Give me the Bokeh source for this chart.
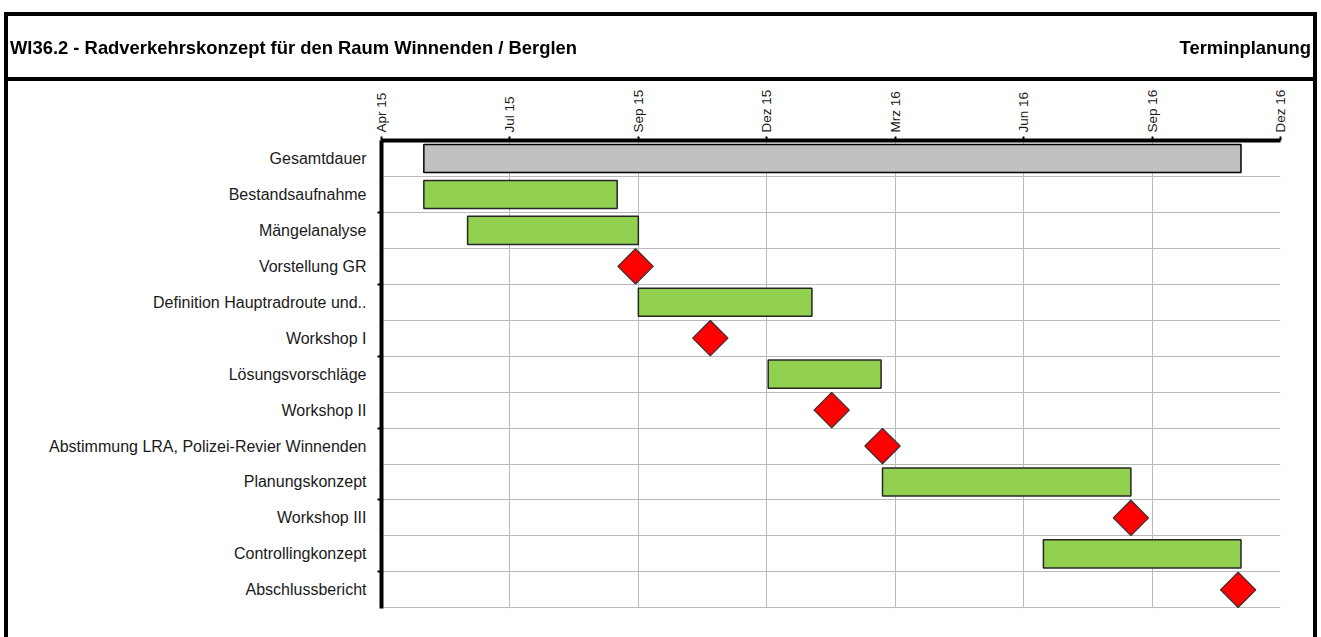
import numpy as np
import pandas as pd
from bokeh.plotting import figure
from bokeh.layouts import column
from bokeh.models import Range1d, FixedTicker, ColumnDataSource, Div
from bokeh.embed import file_html
from bokeh.resources import INLINE

# ---------------- data ----------------
tasks = ["Gesamtdauer", "Bestandsaufnahme", "Mängelanalyse", "Vorstellung GR",
         "Definition Hauptradroute und..", "Workshop I", "Lösungsvorschläge",
         "Workshop II", "Abstimmung LRA, Polizei-Revier Winnenden", "Planungskonzept",
         "Workshop III", "Controllingkonzept", "Abschlussbericht"]
kinds = ["summary", "task", "task", "milestone", "task", "milestone", "task",
         "milestone", "milestone", "task", "milestone", "task", "milestone"]
starts = ["2015-05-01", "2015-05-01", "2015-06-01", "2015-09-28", "2015-09-30",
          "2015-11-20", "2015-12-31", "2016-02-14", "2016-03-21", "2016-03-21",
          "2016-09-13", "2016-07-13", "2016-11-28"]
ends = ["2016-11-30", "2015-09-15", "2015-09-30", "2015-09-28", "2016-01-31",
        "2015-11-20", "2016-03-20", "2016-02-14", "2016-03-21", "2016-09-13",
        "2016-09-13", "2016-11-30", "2016-11-28"]
tick_dates = ["2015-04-01", "2015-07-01", "2015-09-30", "2015-12-30",
              "2016-03-30", "2016-06-29", "2016-09-28", "2016-12-28"]
tick_labels = ["Apr 15", "Jul 15", "Sep 15", "Dez 15", "Mrz 16", "Jun 16", "Sep 16", "Dez 16"]
title_text = "WI36.2 - Radverkehrskonzept für den Raum Winnenden / Berglen"
right_text = "Terminplanung"

# ---------------- derived ----------------
origin = pd.Timestamp(tick_dates[0])
def days(lst):
    return [int((pd.Timestamp(s) - origin).days) for s in lst]

s_days = days(starts)
e_days = days(ends)
t_days = days(tick_dates)
rows = list(range(len(tasks)))

FONT = "Liberation Sans"

p = figure(width=1321, height=630, output_backend="svg", toolbar_location=None,
           x_axis_location="above", tools="",
           x_range=Range1d(t_days[0], t_days[-1]),
           y_range=Range1d(len(tasks) - 0.48, -0.5),
           min_border_left=381, min_border_right=41,
           min_border_top=140, min_border_bottom=22)
p.title.visible = False
p.outline_line_color = None
p.background_fill_color = "white"
p.border_fill_color = "white"

# grids
p.xgrid.ticker = FixedTicker(ticks=t_days)
p.xgrid.grid_line_color = "#bababa"
p.xgrid.grid_line_width = 1
p.ygrid.ticker = FixedTicker(ticks=[r + 0.5 for r in rows])
p.ygrid.grid_line_color = "#bababa"
p.ygrid.grid_line_width = 1

# top x axis
xa = p.xaxis[0]
xa.ticker = FixedTicker(ticks=t_days)
xa.major_label_overrides = {d: l for d, l in zip(t_days, tick_labels)}
xa.major_label_orientation = np.pi / 2
xa.major_label_text_font = FONT
xa.major_label_text_font_size = "13.5px"
xa.major_label_text_color = "#1a1a1a"
xa.major_label_standoff = 4
xa.axis_line_width = 4
xa.axis_line_color = "black"
xa.major_tick_in = 0
xa.major_tick_out = 4
xa.major_tick_line_width = 2
xa.minor_tick_line_color = None

# left y axis
ya = p.yaxis[0]
ya.ticker = FixedTicker(ticks=rows, minor_ticks=[r + 0.5 for r in rows if r % 2 == 1])
ya.major_label_overrides = {r: t for r, t in zip(rows, tasks)}
ya.major_label_text_font = FONT
ya.major_label_text_font_size = "16px"
ya.major_label_text_color = "#1a1a1a"
ya.major_label_standoff = 11
ya.axis_line_width = 4
ya.axis_line_color = "black"
ya.major_tick_in = 0
ya.major_tick_out = 0
ya.minor_tick_in = 0
ya.minor_tick_out = 4
ya.minor_tick_line_width = 2
ya.minor_tick_line_color = "black"

# bars
bar_idx = [i for i, k in enumerate(kinds) if k != "milestone"]
bars = ColumnDataSource(dict(
    y=[rows[i] for i in bar_idx],
    left=[s_days[i] for i in bar_idx],
    right=[e_days[i] for i in bar_idx],
    fill=["#c0c0c0" if kinds[i] == "summary" else "#92d050" for i in bar_idx],
    line=["#000000" if kinds[i] == "summary" else "#262626" for i in bar_idx],
))
p.hbar(y="y", left="left", right="right", height=0.78, source=bars,
       fill_color="fill", line_color="line", line_width=1.5)

# milestones
ms_idx = [i for i, k in enumerate(kinds) if k == "milestone"]
ms = ColumnDataSource(dict(x=[s_days[i] for i in ms_idx], y=[rows[i] for i in ms_idx]))
p.scatter(x="x", y="y", source=ms, marker="square", angle=np.pi / 4, size=25,
          fill_color="#ff0000", line_color="#333333", line_width=1.2)

# page frame and header (HTML overlay)
font_css = "font-family:'Liberation Sans',Arial,sans-serif;font-weight:bold;font-size:18.4px;line-height:18px;color:#000;"
header_html = (
    '<div style="position:fixed;left:4px;top:12px;width:1313px;height:700px;'
    'box-sizing:border-box;border:4px solid #000;z-index:10;pointer-events:none;"></div>'
    '<div style="position:fixed;left:4px;top:77px;width:1313px;height:4px;'
    'background:#000;z-index:10;pointer-events:none;"></div>'
    f'<div style="position:fixed;left:10px;top:39px;white-space:nowrap;z-index:11;{font_css}">{title_text}</div>'
    f'<div style="position:fixed;left:0px;top:39px;width:1311px;text-align:right;white-space:nowrap;z-index:11;{font_css}">{right_text}</div>'
)
header = Div(text=header_html, width=10, height=5)

layout = column(p, header)
open("out.html", "w").write(file_html(layout, INLINE))
